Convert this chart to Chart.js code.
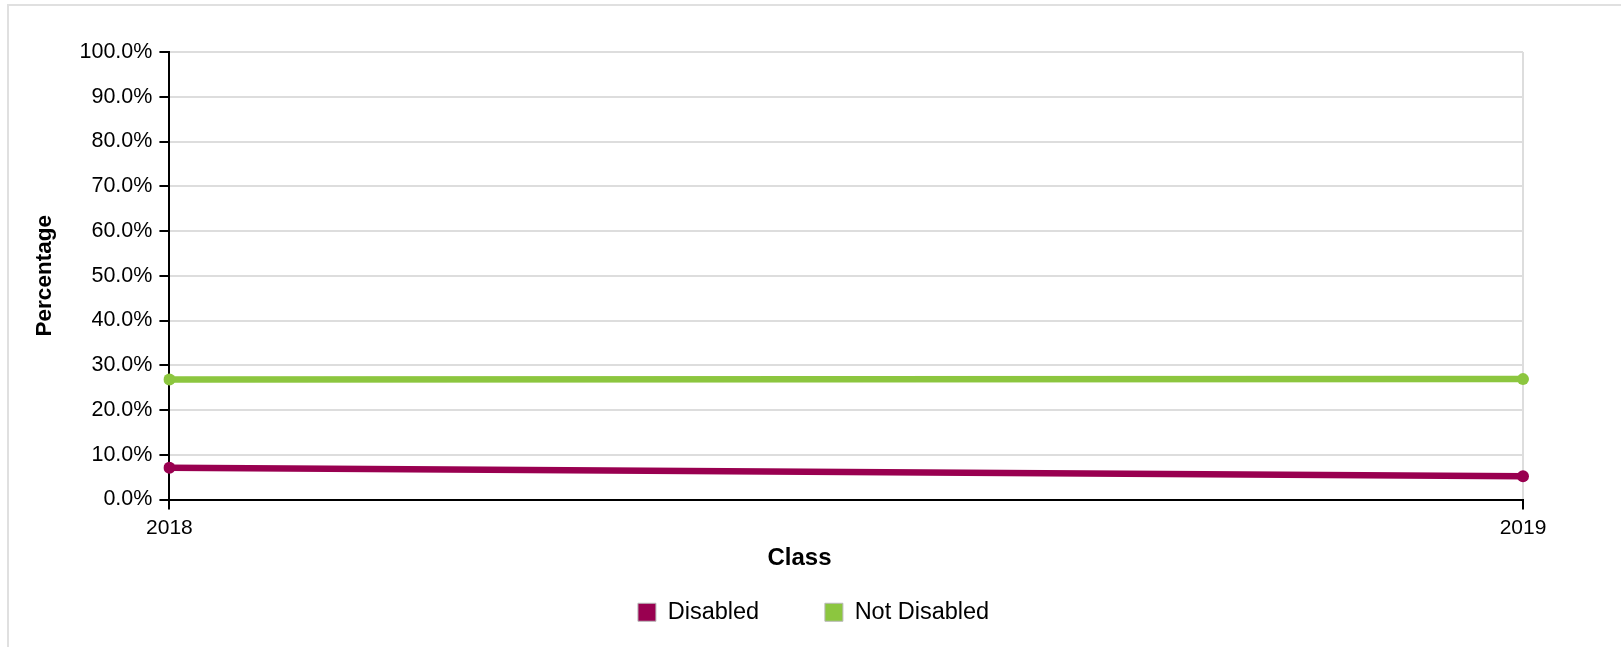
<!DOCTYPE html>
<html>
<head>
<meta charset="utf-8">
<script src="https://cdn.jsdelivr.net/npm/chart.js@4/dist/chart.umd.min.js"></script>
<style>
  html, body { margin: 0; padding: 0; overflow: hidden; background: #fff; }
  .frame { position: absolute; left: 7px; top: 4px; width: 1700px; height: 700px;
           border-left: 2px solid #e0e0e0; border-top: 2px solid #e0e0e0; }
  #chart { position: absolute; left: 0; top: 0; }
</style>
</head>
<body>
<div class="frame"></div>
<canvas id="chart" width="1628" height="647"></canvas>
<script>
var classes = ['2018', '2019'];
var disabled = [7.1, 5.2];
var notDisabled = [26.8, 26.9];
var seriesNames = ['Disabled', 'Not Disabled'];
var yMin = 0, yMax = 100, yStep = 10;

var fontFamily = "'Liberation Sans', Arial, Helvetica, sans-serif";
var colors = ['#990050', '#8cc63f'];

// chart.js centres these on the plot area; the original sits further left,
// so trailing spaces push the visible text over and widen the legend gap
var legendText = [seriesNames[0] + '         ', seriesNames[1] + '          '];
var xTitle = 'Class' + '              ';

var ctx = document.getElementById('chart').getContext('2d');
var chart = new Chart(ctx, {
  type: 'line',
  data: {
    labels: classes,
    datasets: [{
      label: seriesNames[0],
      data: disabled,
      borderColor: colors[0],
      backgroundColor: colors[0],
      borderWidth: 6.5,
      pointRadius: 6,
      pointBorderWidth: 0,
      pointBackgroundColor: colors[0],
      tension: 0
    }, {
      label: seriesNames[1],
      data: notDisabled,
      borderColor: colors[1],
      backgroundColor: colors[1],
      borderWidth: 6.5,
      pointRadius: 6,
      pointBorderWidth: 0,
      pointBackgroundColor: colors[1],
      tension: 0
    }]
  },
  options: {
    responsive: false,
    animation: false,
    layout: { padding: { left: 9, top: 52, right: 105, bottom: 13 } },
    scales: {
      x: {
        offset: false,
        grid: { color: '#dddddd', lineWidth: 2, tickColor: '#000', tickLength: 10 },
        border: { color: '#000', width: 2 },
        ticks: { color: '#000', padding: 8, maxRotation: 0, font: { family: fontFamily, size: 21, lineHeight: 1 } }
      },
      y: {
        min: yMin,
        max: yMax,
        grid: { color: '#dddddd', lineWidth: 2, tickColor: '#000', tickLength: 10 },
        border: { color: '#000', width: 2 },
        ticks: {
          stepSize: yStep,
          color: '#000',
          padding: 7,
          font: { family: fontFamily, size: 21.5 },
          callback: function (v) { return v.toFixed(1) + '%'; }
        },
        title: {
          display: true,
          text: 'Percentage',
          color: '#000',
          padding: { top: 22.5, bottom: 14 },
          font: { family: fontFamily, size: 22.5, weight: 'bold' }
        }
      }
    },
    plugins: {
      tooltip: { enabled: false },
      title: {
        display: true,
        position: 'bottom',
        fullSize: false,
        weight: 500,
        text: xTitle,
        color: '#000',
        padding: { top: 0, bottom: 23 },
        font: { family: fontFamily, size: 24, weight: 'bold', lineHeight: 1 }
      },
      legend: {
        position: 'bottom',
        fullSize: false,
        labels: {
          color: '#000',
          boxWidth: 18,
          boxHeight: 18,
          padding: 7,
          font: { family: fontFamily, size: 23.5 },
          generateLabels: function (chart) {
            return chart.data.datasets.map(function (ds, i) {
              return {
                text: legendText[i],
                fillStyle: ds.borderColor,
                strokeStyle: '#b8b8b8',
                lineWidth: 1,
                fontColor: '#000',
                hidden: false,
                datasetIndex: i
              };
            });
          }
        }
      }
    }
  }
});
</script>
</body>
</html>
